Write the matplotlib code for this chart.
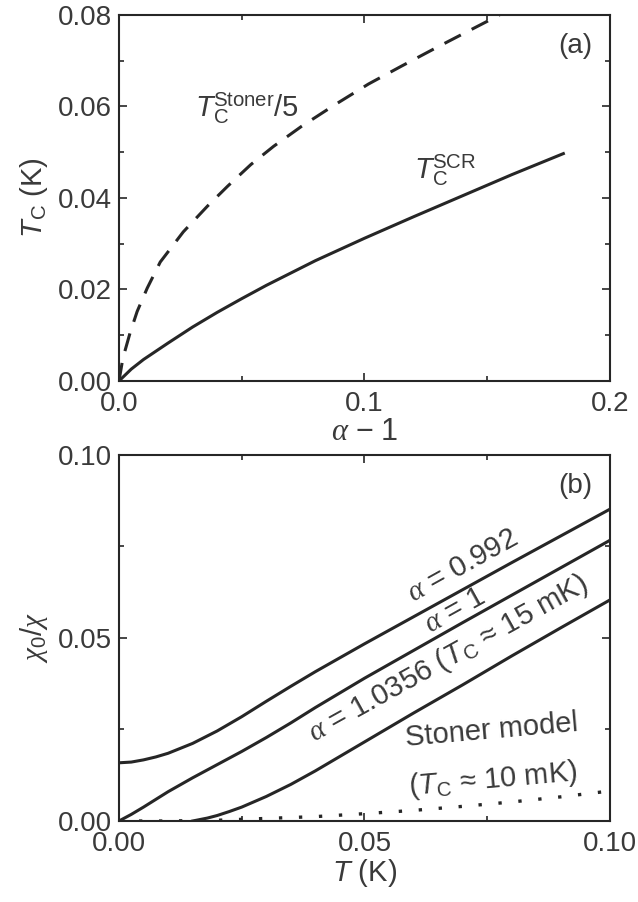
import matplotlib
matplotlib.use('Agg')
import matplotlib.pyplot as plt
from matplotlib.ticker import MultipleLocator

plt.rcParams['font.family'] = ['Liberation Sans', 'DejaVu Sans']
plt.rcParams['mathtext.fontset'] = 'custom'
plt.rcParams['mathtext.rm'] = 'Liberation Sans'
plt.rcParams['mathtext.it'] = 'Liberation Serif:italic'
plt.rcParams['mathtext.sf'] = 'Liberation Sans:italic'
plt.rcParams['mathtext.bf'] = 'Liberation Sans:bold'

LINE = '#262626'
TEXT = '#3a3a3a'

# (a) Curie temperature against alpha - 1
a_scr = [0, 0.005, 0.010, 0.020, 0.030, 0.040, 0.050, 0.060, 0.080,
         0.100, 0.120, 0.140, 0.160, 0.181]
tc_scr = [0, 0.0026, 0.0047, 0.0083, 0.0118, 0.0150, 0.0180, 0.0209, 0.0263,
          0.0312, 0.0359, 0.0405, 0.0451, 0.0497]

a_stoner = [0, 0.0016, 0.0045, 0.0074, 0.0115, 0.0168, 0.0262, 0.036,
            0.0443, 0.0537, 0.063, 0.0742, 0.0880, 0.1016, 0.1150, 0.1287,
            0.1420, 0.1550]
tc_stoner5 = [0, 0.0050, 0.0105, 0.0152, 0.0203, 0.0260, 0.0326, 0.0382,
              0.0426, 0.0473, 0.0513, 0.0556, 0.0604, 0.0649, 0.0688, 0.0727,
              0.0764, 0.0800]

# (b) chi_0 / chi against temperature
t_b = [0, 0.0025, 0.005, 0.0075, 0.010, 0.015, 0.020, 0.025, 0.030, 0.035,
       0.040, 0.050, 0.060, 0.070, 0.080, 0.090, 0.100]
inv_0992 = [0.0159, 0.0161, 0.0167, 0.0175, 0.0185, 0.0212, 0.0246, 0.0285,
            0.0327, 0.0368, 0.0408, 0.0484, 0.0558, 0.0632, 0.0706, 0.0779,
            0.0852]
inv_1 = [0, 0.0018, 0.0038, 0.0059, 0.0080, 0.0118, 0.0154, 0.0190, 0.0228,
         0.0268, 0.0310, 0.0390, 0.0466, 0.0542, 0.0617, 0.0692, 0.0767]

t_10356 = [0.015, 0.018, 0.020, 0.0225, 0.025, 0.030, 0.035, 0.040, 0.050,
           0.060, 0.070, 0.080, 0.090, 0.100]
inv_10356 = [0, 0.0008, 0.0015, 0.0026, 0.0038, 0.0067, 0.0100, 0.0137,
             0.0216, 0.0295, 0.0372, 0.0451, 0.0528, 0.0604]

t_st = [0, 0.010, 0.020, 0.030, 0.040, 0.050, 0.060, 0.070, 0.080, 0.090, 0.100]
inv_st = [0, 0, 0.0002, 0.0007, 0.0012, 0.0020, 0.0029, 0.0040, 0.0052,
          0.0066, 0.0082]


def style_axes(ax, xmaj, xmin, ymaj, ymin):
    ax.xaxis.set_major_locator(MultipleLocator(xmaj))
    ax.xaxis.set_minor_locator(MultipleLocator(xmin))
    ax.yaxis.set_major_locator(MultipleLocator(ymaj))
    ax.yaxis.set_minor_locator(MultipleLocator(ymin))
    ax.tick_params(which='both', direction='in', top=True, right=True,
                   color=LINE, width=1.2, labelsize=20, labelcolor=TEXT)
    ax.tick_params(which='major', length=6)
    ax.tick_params(which='minor', length=3.5)
    ax.tick_params(axis='x', pad=7)
    ax.tick_params(axis='y', pad=5)
    for s in ax.spines.values():
        s.set_linewidth(1.5)
        s.set_color(LINE)


fig = plt.figure(figsize=(6.38, 9.02), dpi=100)
ax1 = fig.add_axes([0.1865, 0.5776, 0.7696, 0.4058])
ax2 = fig.add_axes([0.1865, 0.0898, 0.7696, 0.4058])

# panel (a)
ax1.plot(a_scr, tc_scr, color=LINE, lw=2.2)
ax1.plot(a_stoner, tc_stoner5, color=LINE, lw=2.2, ls=(0, (6, 4)))
ax1.set_xlim(0, 0.2)
ax1.set_ylim(0, 0.08)
style_axes(ax1, 0.1, 0.05, 0.02, 0.01)
ax1.xaxis.set_major_formatter(lambda v, p: '%.1f' % v)
ax1.yaxis.set_major_formatter(lambda v, p: '%.2f' % v)
ax1.set_xlabel(r'$\alpha\,-\,1$', fontsize=22, color=TEXT, labelpad=0)
ax1.set_ylabel(r'$\mathsf{T}_\mathrm{C}$ (K)', fontsize=21, color=TEXT, labelpad=6)
ax1.text(0.052, 0.0597, r'$\mathsf{T}_\mathrm{C}^\mathrm{Stoner}$/5', fontsize=21,
         color=TEXT, ha='center', va='center')
ax1.text(0.133, 0.0461, r'$\mathsf{T}_\mathrm{C}^\mathrm{SCR}$', fontsize=21,
         color=TEXT, ha='center', va='center')
ax1.text(0.965, 0.95, '(a)', transform=ax1.transAxes, fontsize=20,
         color=TEXT, ha='right', va='top')

# panel (b)
ax2.plot(t_b, inv_0992, color=LINE, lw=2.2)
ax2.plot(t_b, inv_1, color=LINE, lw=2.2)
ax2.plot(t_10356, inv_10356, color=LINE, lw=2.2)
ax2.plot(t_st, inv_st, color=LINE, lw=2.4, ls=(0, (1, 5)))
ax2.set_xlim(0, 0.1)
ax2.set_ylim(0, 0.1)
style_axes(ax2, 0.05, 0.025, 0.05, 0.025)
ax2.xaxis.set_major_formatter(lambda v, p: '%.2f' % v)
ax2.yaxis.set_major_formatter(lambda v, p: '%.2f' % v)
ax2.set_xlabel(r'$\mathsf{T}$ (K)', fontsize=21, color=TEXT, labelpad=0)
ax2.set_ylabel(r'$\chi_0/\chi$', fontsize=21, color=TEXT, labelpad=6)

rot = 29
ax2.text(0.0699, 0.0697, r'$\alpha$ = 0.992', fontsize=21, color=TEXT,
         rotation=rot, rotation_mode='anchor', ha='center', va='center')
ax2.text(0.0684, 0.0574, r'$\alpha$ = 1', fontsize=21, color=TEXT,
         rotation=rot, rotation_mode='anchor', ha='center', va='center')
ax2.text(0.067, 0.0443, r'$\alpha$ = 1.0356 ($\mathsf{T}_\mathrm{C}$ ≈ 15 mK)',
         fontsize=21, color=TEXT, rotation=rot, rotation_mode='anchor',
         ha='center', va='center')
ax2.text(0.0758, 0.0246, 'Stoner model', fontsize=21, color=TEXT,
         rotation=5, rotation_mode='anchor', ha='center', va='center')
ax2.text(0.0762, 0.0112, r'($\mathsf{T}_\mathrm{C}$ ≈ 10 mK)', fontsize=21,
         color=TEXT, rotation=5, rotation_mode='anchor', ha='center', va='center')
ax2.text(0.965, 0.95, '(b)', transform=ax2.transAxes, fontsize=20,
         color=TEXT, ha='right', va='top')

fig.savefig('out.png', dpi=100)
